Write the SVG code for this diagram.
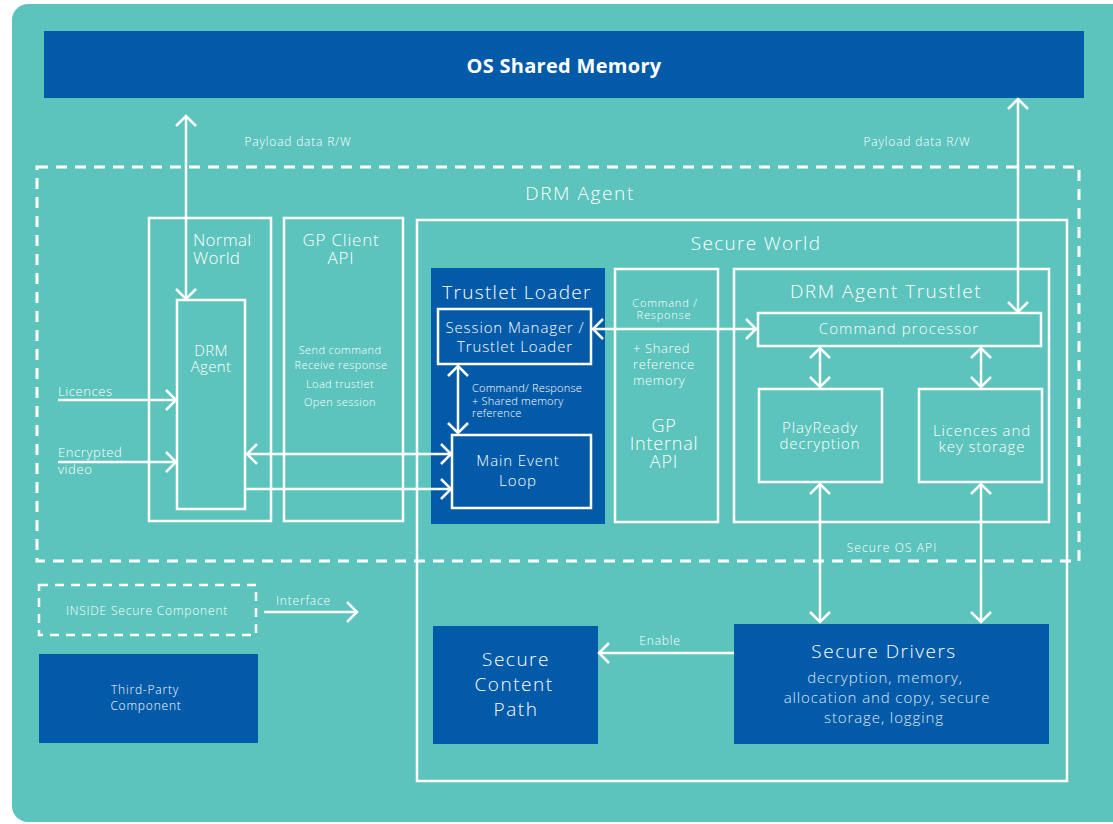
<svg xmlns="http://www.w3.org/2000/svg" width="1113" height="824" viewBox="0 0 1113 824">
<style>
text{font-family:"Open Sans","Liberation Sans",sans-serif;fill:#ffffff;font-weight:300;}
.box{fill:none;stroke:#ffffff;stroke-width:2.5;}
.blue{fill:#035aa8;}
.dash{fill:none;stroke:#ffffff;stroke-width:3;stroke-dasharray:11 8;}
.ln{fill:none;stroke:#ffffff;stroke-width:2.5;}
.c{text-anchor:middle;}
.t19{font-size:19px;letter-spacing:1.3px;}
.t17{font-size:17px;letter-spacing:0.8px;}
.t15{font-size:15px;letter-spacing:0.9px;}
.t13{font-size:13px;letter-spacing:0.6px;}
.t12{font-size:12px;letter-spacing:0.8px;}
.t11{font-size:11px;letter-spacing:0.4px;}
.sub{fill:#dbe8f4;}
</style>
<defs>
<marker id="ah" markerUnits="userSpaceOnUse" markerWidth="26" markerHeight="26" viewBox="-13 -13 26 26" refX="0" refY="0" orient="auto-start-reverse">
<path d="M-10,-10 L0,0 L-10,10" fill="none" stroke="#ffffff" stroke-width="2.5"/>
</marker>
</defs>
<rect x="12" y="4" width="1130" height="818" rx="16" fill="#5cc4bc"/>

<g id="os-shared-memory">
<rect class="blue" x="44" y="31" width="1040" height="67"/>
<text class="c" x="564" y="73" style="font-size:20px;font-weight:bold;letter-spacing:0.3px;">OS Shared Memory</text>
</g>

<g id="drm-agent-outer">
<rect class="dash" x="37" y="167" width="1042" height="394"/>
<text class="c t19" x="580" y="200" style="letter-spacing:1.6px">DRM Agent</text>
</g>

<g id="normal-world">
<rect class="box" x="149" y="218" width="122" height="303"/>
<text class="t17" style="letter-spacing:0.3px"><tspan x="193" y="246">Normal</tspan><tspan x="193" y="264">World</tspan></text>
</g>

<g id="drm-agent">
<rect class="box" x="177" y="300" width="68" height="209"/>
<text class="c t15" style="letter-spacing:0.3px"><tspan x="211" y="356">DRM</tspan><tspan x="211" y="372">Agent</tspan></text>
</g>

<g id="gp-client-api">
<rect class="box" x="284" y="218" width="119" height="303"/>
<text class="c t17"><tspan x="341" y="246">GP Client</tspan><tspan x="341" y="264">API</tspan></text>
<text class="c t11"><tspan x="340" y="354">Send command</tspan><tspan x="341" y="369">Receive response</tspan><tspan x="340" y="388">Load trustlet</tspan><tspan x="340" y="406">Open session</tspan></text>
</g>

<g id="secure-world">
<rect class="box" x="417" y="220" width="650" height="561"/>
<text class="c t19" x="756" y="250">Secure World</text>
</g>

<g id="trustlet-loader">
<rect class="blue" x="431" y="268" width="174" height="256"/>
<text class="c t19" x="517" y="299">Trustlet Loader</text>
</g>

<g id="session-manager">
<rect class="box" x="438" y="309" width="153" height="55"/>
<text class="c t15"><tspan x="515" y="333">Session Manager /</tspan><tspan x="515" y="352">Trustlet Loader</tspan></text>
</g>

<g id="main-event-loop">
<rect class="box" x="452" y="435" width="139" height="73"/>
<text class="c t15"><tspan x="518" y="466">Main Event</tspan><tspan x="518" y="486">Loop</tspan></text>
</g>

<g id="gp-internal-api">
<rect class="box" x="615" y="269" width="103" height="253"/>
<text class="c t11" style="letter-spacing:0.8px"><tspan x="665" y="307">Command /</tspan><tspan x="664" y="319">Response</tspan></text>
<text class="t13"><tspan x="633" y="353">+ Shared</tspan><tspan x="633" y="369">reference</tspan><tspan x="633" y="385">memory</tspan></text>
<text class="c t19" style="font-size:18px;letter-spacing:0.8px"><tspan x="664" y="432">GP</tspan><tspan x="664" y="450">Internal</tspan><tspan x="664" y="468">API</tspan></text>
</g>

<g id="drm-agent-trustlet">
<rect class="box" x="734" y="269" width="315" height="253"/>
<text class="c t19" x="886" y="298" style="letter-spacing:1.5px">DRM Agent Trustlet</text>
</g>

<g id="command-processor">
<rect class="box" x="758" y="313" width="283" height="33"/>
<text class="c t15" x="899" y="334" style="letter-spacing:1.1px">Command processor</text>
</g>

<g id="playready-decryption">
<rect class="box" x="759" y="389" width="123" height="93"/>
<text class="c t15"><tspan x="820" y="433">PlayReady</tspan><tspan x="820" y="449">decryption</tspan></text>
</g>

<g id="licences-key-storage">
<rect class="box" x="919" y="389" width="123" height="93"/>
<text class="c t15"><tspan x="982" y="436">Licences and</tspan><tspan x="982" y="452">key storage</tspan></text>
</g>

<g id="secure-drivers">
<rect class="blue" x="734" y="624" width="315" height="120"/>
<text class="c t19" x="884" y="658" style="letter-spacing:1.5px">Secure Drivers</text>
<text class="c t15 sub"><tspan x="885" y="683">decryption, memory,</tspan><tspan x="887" y="703">allocation and copy, secure</tspan><tspan x="884" y="723">storage, logging</tspan></text>
</g>

<g id="secure-content-path">
<rect class="blue" x="433" y="626" width="165" height="118"/>
<text class="c t19" style="letter-spacing:1.5px"><tspan x="516" y="666">Secure</tspan><tspan x="514" y="691">Content</tspan><tspan x="516" y="716">Path</tspan></text>
</g>

<g id="inside-secure-component">
<rect class="dash" x="39" y="585" width="217" height="50" style="stroke-width:2.5;stroke-dasharray:9 7;"/>
<text class="c t12" x="147" y="615">INSIDE Secure Component</text>
</g>

<g id="third-party-component">
<rect class="blue" x="39" y="654" width="219" height="89"/>
<text class="c t12"><tspan x="145" y="694">Third-Party</tspan><tspan x="146" y="710">Component</tspan></text>
</g>

<g id="connectors">
<line class="ln" x1="186" y1="116" x2="186" y2="299" marker-start="url(#ah)" marker-end="url(#ah)"/>
<line class="ln" x1="1018" y1="99" x2="1018" y2="312" marker-start="url(#ah)" marker-end="url(#ah)"/>
<line class="ln" x1="58" y1="400" x2="176" y2="400" marker-end="url(#ah)"/>
<line class="ln" x1="58" y1="462" x2="176" y2="462" marker-end="url(#ah)"/>
<line class="ln" x1="247" y1="454" x2="451" y2="454" marker-start="url(#ah)" marker-end="url(#ah)"/>
<line class="ln" x1="245" y1="489" x2="451" y2="489" marker-end="url(#ah)"/>
<line class="ln" x1="458" y1="366" x2="458" y2="433" marker-start="url(#ah)" marker-end="url(#ah)"/>
<line class="ln" x1="593" y1="329" x2="756" y2="329" marker-start="url(#ah)" marker-end="url(#ah)"/>
<line class="ln" x1="820" y1="348" x2="820" y2="387" marker-start="url(#ah)" marker-end="url(#ah)"/>
<line class="ln" x1="981" y1="348" x2="981" y2="387" marker-start="url(#ah)" marker-end="url(#ah)"/>
<line class="ln" x1="820" y1="484" x2="820" y2="622" marker-start="url(#ah)" marker-end="url(#ah)"/>
<line class="ln" x1="981" y1="484" x2="981" y2="622" marker-start="url(#ah)" marker-end="url(#ah)"/>
<line class="ln" x1="734" y1="653" x2="599" y2="653" marker-end="url(#ah)"/>
<line class="ln" x1="264" y1="612" x2="357" y2="612" marker-end="url(#ah)"/>
<text class="c t12" x="298" y="146">Payload data R/W</text>
<text class="c t12" x="917" y="146">Payload data R/W</text>
<text class="t13" x="58" y="396">Licences</text>
<text class="t13"><tspan x="58" y="457">Encrypted</tspan><tspan x="58" y="474">video</tspan></text>
<text class="t11" style="letter-spacing:0.2px"><tspan x="472" y="392">Command/ Response</tspan><tspan x="472" y="405">+ Shared memory</tspan><tspan x="472" y="417">reference</tspan></text>
<text class="c t12" x="892" y="552" style="letter-spacing:1.1px">Secure OS API</text>
<text class="c t12" x="660" y="645">Enable</text>
<text class="t12" x="276" y="605">Interface</text>
</g>
</svg>
